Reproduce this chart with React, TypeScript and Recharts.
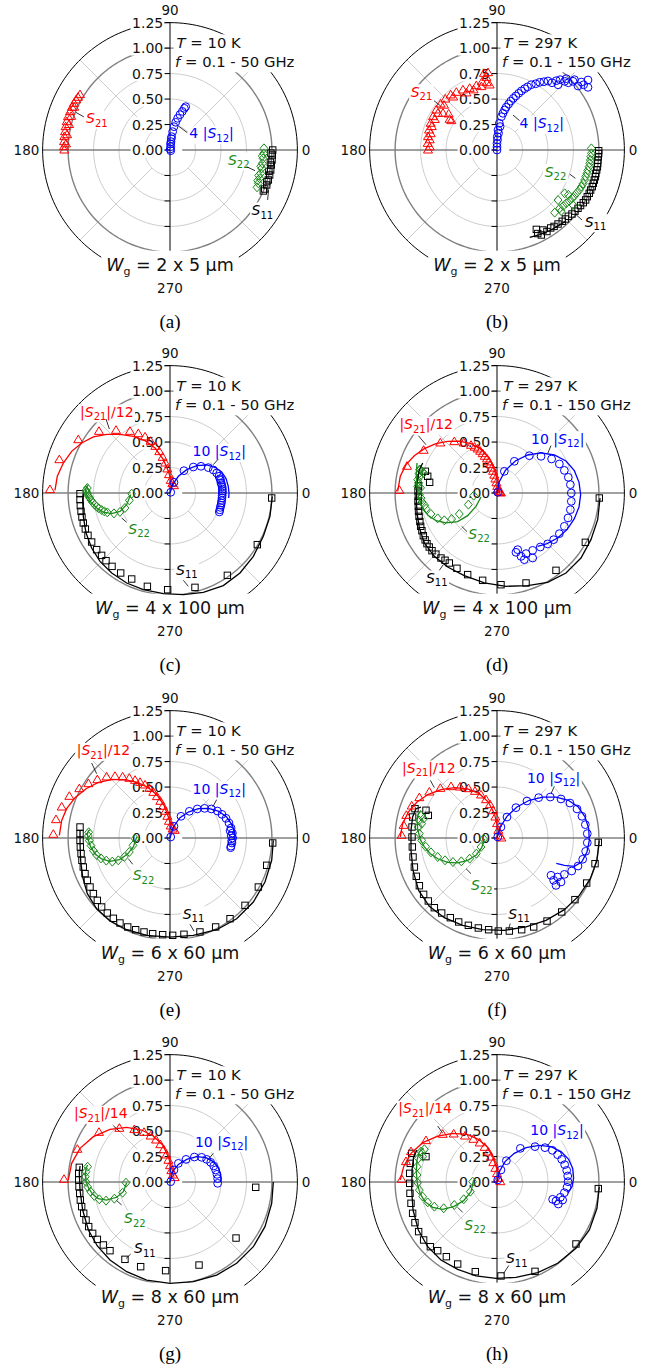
import React from "react";
import { ScatterChart, Scatter, XAxis, YAxis } from "recharts";

type Pt = [number, number]; // [Re, Im]

// ---------- (a) T = 10 K, Wg = 2 x 5 um ----------
const A_S21: Pt[] = [[-1.037,0],[-1.04,0.033],[-1.02,0.06],[-1.04,0.082],[-1.037,0.131],[-1.01,0.15],[-1.03,0.18],[-1.024,0.229],[-0.99,0.25],[-1.014,0.278],[-1.001,0.327],[-0.97,0.33],[-0.981,0.376],[-0.962,0.419],[-0.94,0.42],[-0.942,0.458],[-0.922,0.491],[-0.903,0.517],[-0.883,0.543]];
const A_S12: Pt[] = [[0.007,-0.007],[0.003,0.01],[0.007,0.033],[0.005,0.06],[0.01,0.082],[0.012,0.11],[0.016,0.131],[0.026,0.18],[0.039,0.229],[0.056,0.272],[0.075,0.311],[0.098,0.347],[0.121,0.379],[0.141,0.409],[0.154,0.425]];
const A_S22: Pt[] = [[0.922,0.016],[0.919,-0.033],[0.905,-0.06],[0.913,-0.082],[0.906,-0.131],[0.89,-0.16],[0.9,-0.18],[0.89,-0.229],[0.87,-0.25],[0.88,-0.278],[0.86,-0.3],[0.867,-0.327],[0.854,-0.366]];
const A_S11: Pt[] = [[1.008,0],[0.99,-0.03],[1.004,-0.049],[1.001,-0.098],[0.985,-0.12],[0.994,-0.147],[0.988,-0.196],[0.97,-0.21],[0.978,-0.245],[0.965,-0.294],[0.95,-0.31],[0.949,-0.343],[0.929,-0.383],[0.916,-0.402]];

// ---------- (b) T = 297 K, Wg = 2 x 5 um ----------
const B_S21: Pt[] = [[-0.677,0],[-0.66,0.03],[-0.68,0.065],[-0.66,0.1],[-0.677,0.131],[-0.65,0.16],[-0.667,0.196],[-0.64,0.23],[-0.651,0.262],[-0.61,0.3],[-0.628,0.327],[-0.58,0.36],[-0.595,0.393],[-0.553,0.451],[-0.52,0.44],[-0.507,0.5],[-0.455,0.54],[-0.43,0.52],[-0.399,0.566],[-0.334,0.589],[-0.3,0.56],[-0.268,0.605],[-0.23,0.59],[-0.203,0.631],[-0.147,0.667],[-0.1,0.66],[-0.105,0.713],[-0.088,0.759],[-0.128,0.752],[-0.072,0.638],[-0.154,0.622],[-0.465,0.301],[-0.53,0.36],[-0.474,0.353],[-0.448,0.288]];
const B_S12: Pt[] = [[0,0],[0,0.03],[0,0.065],[0.005,0.1],[0.003,0.131],[0.015,0.165],[0.01,0.196],[0.03,0.23],[0.023,0.262],[0.043,0.327],[0.058,0.36],[0.075,0.393],[0.09,0.42],[0.114,0.451],[0.135,0.48],[0.16,0.507],[0.185,0.53],[0.213,0.556],[0.24,0.58],[0.272,0.602],[0.3,0.62],[0.337,0.641],[0.38,0.65],[0.419,0.664],[0.46,0.67],[0.5,0.677],[0.54,0.66],[0.582,0.68],[0.6,0.64],[0.62,0.69],[0.664,0.674],[0.68,0.7],[0.7,0.66],[0.746,0.674],[0.76,0.69],[0.795,0.628],[0.828,0.667],[0.85,0.64],[0.893,0.687],[0.893,0.615]];
const B_S22: Pt[] = [[0.926,0.016],[0.926,-0.033],[0.92,-0.065],[0.916,-0.098],[0.91,-0.13],[0.903,-0.164],[0.89,-0.2],[0.883,-0.229],[0.87,-0.26],[0.86,-0.294],[0.845,-0.33],[0.828,-0.36],[0.81,-0.39],[0.785,-0.419],[0.76,-0.45],[0.736,-0.474],[0.71,-0.5],[0.68,-0.523],[0.65,-0.55],[0.615,-0.572],[0.63,-0.6],[0.566,-0.615],[0.664,-0.425],[0.7,-0.44],[0.746,-0.54],[0.599,-0.491]];
const B_S11: Pt[] = [[0.998,-0.007],[0.997,-0.035],[0.994,-0.065],[0.99,-0.1],[0.988,-0.131],[0.985,-0.165],[0.978,-0.196],[0.97,-0.23],[0.965,-0.262],[0.955,-0.295],[0.945,-0.327],[0.935,-0.36],[0.919,-0.393],[0.905,-0.425],[0.886,-0.458],[0.87,-0.49],[0.847,-0.517],[0.82,-0.545],[0.795,-0.572],[0.765,-0.6],[0.736,-0.628],[0.7,-0.65],[0.671,-0.677],[0.64,-0.7],[0.599,-0.726],[0.56,-0.75],[0.527,-0.765],[0.49,-0.8],[0.451,-0.785],[0.435,-0.834],[0.4,-0.82],[0.386,-0.779]];
const B_S11_FIT: Pt[] = [[0.321,-0.857],[0.42,-0.83],[0.52,-0.79],[0.6,-0.745],[0.67,-0.7]];

// ---------- (c) T = 10 K, Wg = 4 x 100 um ----------
const C_S21: Pt[] = [[-1.178,0.033],[-1.086,0.327],[-0.9,0.523],[-0.697,0.605],[-0.53,0.615],[-0.393,0.605],[-0.311,0.582],[-0.245,0.55],[-0.19,0.507],[-0.144,0.458],[-0.105,0.406],[-0.072,0.35],[-0.046,0.294],[-0.026,0.236],[-0.01,0.18],[0.007,0.124],[0.023,0.092],[0.039,0.072]];
const C_S21_FIT: Pt[] = [[-1.129,0.026],[-1.106,0.164],[-1.047,0.294],[-0.965,0.409],[-0.867,0.491],[-0.752,0.55],[-0.622,0.576],[-0.491,0.576],[-0.36,0.556],[-0.245,0.514],[-0.147,0.442],[-0.065,0.327],[-0.016,0.213],[0.016,0.114],[0.039,0.065]];
const C_S12: Pt[] = [[0.007,0.007],[0.039,0.105],[0.137,0.219],[0.229,0.255],[0.304,0.262],[0.376,0.249],[0.425,0.226],[0.458,0.196],[0.481,0.164],[0.49,0.14],[0.497,0.124],[0.5,0.1],[0.507,0.082],[0.512,0.06],[0.514,0.039],[0.514,0.02],[0.514,0],[0.512,-0.025],[0.51,-0.049],[0.507,-0.075],[0.504,-0.098],[0.499,-0.12],[0.494,-0.141],[0.489,-0.165],[0.484,-0.186]];
const C_S12_FIT: Pt[] = [[0,0],[0.026,0.082],[0.082,0.164],[0.164,0.229],[0.262,0.268],[0.36,0.275],[0.442,0.252],[0.507,0.206],[0.55,0.141],[0.572,0.065],[0.579,0],[0.576,-0.049]];
const C_S22: Pt[] = [[-0.376,-0.007],[-0.399,-0.072],[-0.442,-0.147],[-0.491,-0.186],[-0.55,-0.2],[-0.615,-0.19],[-0.645,-0.18],[-0.671,-0.167],[-0.7,-0.15],[-0.72,-0.134],[-0.74,-0.115],[-0.759,-0.092],[-0.775,-0.07],[-0.788,-0.049],[-0.8,-0.03],[-0.811,-0.007],[-0.818,0.01],[-0.824,0.026],[-0.811,0.049]];
const C_S22_FIT: Pt[] = [[-0.386,-0.016],[-0.425,-0.114],[-0.491,-0.18],[-0.573,-0.203],[-0.654,-0.187],[-0.72,-0.147],[-0.775,-0.092],[-0.811,-0.033],[-0.831,0.016],[-0.824,0.049],[-0.801,0.082]];
const C_S11: Pt[] = [[-0.883,-0.007],[-0.883,-0.065],[-0.88,-0.124],[-0.873,-0.18],[-0.864,-0.236],[-0.851,-0.294],[-0.831,-0.353],[-0.805,-0.415],[-0.769,-0.481],[-0.72,-0.556],[-0.671,-0.612],[-0.628,-0.664],[-0.569,-0.72],[-0.484,-0.785],[-0.376,-0.844],[-0.222,-0.916],[-0.023,-0.949],[0.245,-0.926],[0.563,-0.808],[0.857,-0.507],[0.998,-0.049]];
const C_S11_FIT: Pt[] = [[1.004,-0.033],[0.981,-0.229],[0.916,-0.425],[0.818,-0.622],[0.687,-0.785],[0.523,-0.909],[0.327,-0.975],[0.131,-0.998],[-0.065,-0.988],[-0.262,-0.949],[-0.425,-0.883],[-0.572,-0.785],[-0.687,-0.671],[-0.769,-0.54],[-0.824,-0.393],[-0.851,-0.229],[-0.857,-0.065],[-0.851,-0.007]];

// ---------- (d) T = 297 K, Wg = 4 x 100 um ----------
const D_S21: Pt[] = [[-0.958,0.026],[-0.883,0.262],[-0.72,0.419],[-0.556,0.491],[-0.419,0.504],[-0.327,0.491],[-0.255,0.468],[-0.22,0.45],[-0.19,0.432],[-0.165,0.41],[-0.141,0.386],[-0.12,0.36],[-0.098,0.334],[-0.08,0.305],[-0.065,0.278],[-0.05,0.245],[-0.039,0.213],[-0.027,0.175],[-0.016,0.137],[-0.006,0.1],[0.003,0.065],[0.012,0.04],[0.02,0.016],[0.03,0.005],[0.039,0]];
const D_S21_FIT: Pt[] = [[-0.975,0.016],[-0.949,0.164],[-0.893,0.278],[-0.811,0.366],[-0.713,0.435],[-0.599,0.484],[-0.484,0.507],[-0.37,0.51],[-0.255,0.484],[-0.157,0.432],[-0.075,0.343],[-0.026,0.229],[0.007,0.114],[0.023,0.033],[0.026,-0.007]];
const D_S12: Pt[] = [[0.007,0.007],[0.072,0.213],[0.17,0.311],[0.317,0.366],[0.432,0.36],[0.536,0.334],[0.612,0.285],[0.661,0.222],[0.7,0.154],[0.72,0.082],[0.729,0],[0.729,-0.082],[0.72,-0.164],[0.697,-0.245],[0.661,-0.327],[0.612,-0.399],[0.556,-0.458],[0.497,-0.5],[0.425,-0.53],[0.35,-0.563],[0.285,-0.595],[0.236,-0.622],[0.186,-0.582],[0.268,-0.654],[0.203,-0.556],[0.35,-0.638]];
const D_S12_FIT: Pt[] = [[0,0],[0.02,0.105],[0.082,0.222],[0.18,0.314],[0.301,0.373],[0.432,0.393],[0.563,0.373],[0.677,0.314],[0.759,0.219],[0.805,0.105],[0.821,-0.016],[0.805,-0.137],[0.759,-0.252],[0.687,-0.36],[0.595,-0.442],[0.491,-0.497],[0.399,-0.523]];
const D_S22: Pt[] = [[-0.229,-0.026],[-0.281,-0.114],[-0.37,-0.206],[-0.445,-0.255],[-0.517,-0.268],[-0.582,-0.249],[-0.648,-0.206],[-0.697,-0.154],[-0.71,-0.12],[-0.736,-0.088],[-0.745,-0.05],[-0.762,-0.016],[-0.75,0.05],[-0.779,0.065],[-0.77,0.1],[-0.779,0.131],[-0.76,0.16],[-0.766,0.19],[-0.735,0.21],[-0.752,0.229],[-0.76,0.23],[-0.72,0.196]];
const D_S22_FIT: Pt[] = [[-0.157,-0.039],[-0.206,-0.131],[-0.288,-0.222],[-0.386,-0.281],[-0.5,-0.294],[-0.599,-0.272],[-0.68,-0.216],[-0.739,-0.131],[-0.772,-0.033],[-0.788,0.082],[-0.792,0.196],[-0.785,0.294]];
const D_S11: Pt[] = [[-0.703,0.213],[-0.68,0.164],[-0.661,0.105],[-0.77,0.07],[-0.775,0.02],[-0.772,-0.033],[-0.775,-0.08],[-0.772,-0.131],[-0.77,-0.18],[-0.765,-0.229],[-0.757,-0.28],[-0.749,-0.327],[-0.737,-0.37],[-0.723,-0.419],[-0.705,-0.46],[-0.687,-0.497],[-0.665,-0.53],[-0.638,-0.566],[-0.6,-0.6],[-0.55,-0.638],[-0.51,-0.66],[-0.468,-0.687],[-0.393,-0.739],[-0.288,-0.801],[-0.141,-0.857],[0.039,-0.9],[0.285,-0.883],[0.579,-0.759],[0.867,-0.484],[1.004,-0.049]];
const D_S11_FIT: Pt[] = [[1.011,-0.049],[0.988,-0.262],[0.922,-0.458],[0.824,-0.638],[0.677,-0.785],[0.497,-0.877],[0.301,-0.909],[0.088,-0.916],[-0.124,-0.883],[-0.321,-0.811],[-0.484,-0.726],[-0.615,-0.622],[-0.713,-0.491],[-0.762,-0.343],[-0.785,-0.196],[-0.792,-0.049],[-0.785,0.098],[-0.762,0.229],[-0.729,0.294]];

// ---------- (e) T = 10 K, Wg = 6 x 60 um ----------
const E_S21: Pt[] = [[-1.145,0.036],[-1.119,0.18],[-1.063,0.304],[-0.988,0.409],[-0.89,0.484],[-0.801,0.533],[-0.713,0.572],[-0.622,0.599],[-0.54,0.605],[-0.465,0.599],[-0.399,0.586],[-0.343,0.566],[-0.294,0.546],[-0.245,0.52],[-0.203,0.487],[-0.164,0.448],[-0.128,0.406],[-0.095,0.36],[-0.069,0.311],[-0.046,0.262],[-0.026,0.213],[-0.01,0.164],[0.007,0.118],[0.026,0.088],[0.046,0.075]];
const E_S21_FIT: Pt[] = [[-1.086,0.026],[-1.063,0.173],[-1.014,0.288],[-0.932,0.396],[-0.824,0.484],[-0.703,0.546],[-0.572,0.572],[-0.442,0.572],[-0.321,0.546],[-0.213,0.494],[-0.124,0.419],[-0.059,0.321],[-0.016,0.206],[0.016,0.108],[0.039,0.069]];
const E_S12: Pt[] = [[0.007,0.01],[0.039,0.114],[0.108,0.213],[0.19,0.262],[0.268,0.285],[0.34,0.291],[0.406,0.285],[0.465,0.265],[0.51,0.232],[0.55,0.193],[0.579,0.147],[0.59,0.07],[0.599,0.098],[0.612,0.049],[0.6,0.02],[0.615,0],[0.605,-0.03],[0.608,-0.049],[0.598,-0.08],[0.595,-0.095]];
const E_S12_FIT: Pt[] = [[0,0],[0.033,0.108],[0.098,0.2],[0.18,0.255],[0.278,0.288],[0.376,0.291],[0.474,0.265],[0.556,0.206],[0.612,0.124],[0.638,0.043],[0.638,-0.023]];
const E_S22: Pt[] = [[-0.343,-0.007],[-0.363,-0.072],[-0.399,-0.137],[-0.448,-0.186],[-0.507,-0.219],[-0.566,-0.232],[-0.625,-0.222],[-0.677,-0.2],[-0.72,-0.167],[-0.752,-0.124],[-0.775,-0.075],[-0.792,-0.026],[-0.801,0.02],[-0.798,0.056]];
const E_S22_FIT: Pt[] = [[-0.327,0.01],[-0.36,-0.088],[-0.419,-0.16],[-0.497,-0.213],[-0.589,-0.229],[-0.671,-0.206],[-0.736,-0.154],[-0.779,-0.088],[-0.801,-0.023],[-0.811,0.036],[-0.801,0.069],[-0.785,0.082]];
const E_S11: Pt[] = [[-0.883,0.108],[-0.883,0.043],[-0.883,-0.023],[-0.88,-0.088],[-0.873,-0.154],[-0.864,-0.219],[-0.851,-0.285],[-0.834,-0.35],[-0.811,-0.415],[-0.785,-0.481],[-0.752,-0.546],[-0.713,-0.612],[-0.671,-0.677],[-0.615,-0.736],[-0.556,-0.788],[-0.491,-0.834],[-0.415,-0.873],[-0.337,-0.9],[-0.255,-0.922],[-0.17,-0.939],[-0.072,-0.949],[0.026,-0.955],[0.137,-0.945],[0.294,-0.922],[0.448,-0.873],[0.589,-0.792],[0.736,-0.661],[0.867,-0.481],[0.949,-0.268],[1.008,-0.049]];
const E_S11_FIT: Pt[] = [[1.014,-0.023],[0.998,-0.219],[0.932,-0.432],[0.818,-0.628],[0.654,-0.792],[0.458,-0.9],[0.229,-0.955],[0,-0.972],[-0.229,-0.955],[-0.425,-0.9],[-0.589,-0.815],[-0.72,-0.694],[-0.811,-0.546],[-0.857,-0.383],[-0.877,-0.219],[-0.883,-0.056],[-0.883,0.075]];

// ---------- (f) T = 297 K, Wg = 6 x 60 um ----------
const F_S21: Pt[] = [[-0.936,0.026],[-0.916,0.124],[-0.89,0.222],[-0.837,0.314],[-0.762,0.396],[-0.664,0.451],[-0.556,0.487],[-0.451,0.504],[-0.363,0.5],[-0.281,0.484],[-0.216,0.458],[-0.157,0.422],[-0.108,0.376],[-0.069,0.327],[-0.039,0.268],[-0.016,0.206],[0,0.141],[0.013,0.075],[0.029,0.02],[0.043,0]];
const F_S21_FIT: Pt[] = [[-0.949,0.01],[-0.926,0.141],[-0.87,0.255],[-0.785,0.353],[-0.674,0.429],[-0.55,0.474],[-0.419,0.494],[-0.288,0.481],[-0.173,0.435],[-0.085,0.353],[-0.026,0.239],[0.007,0.108],[0.023,0.026]];
const F_S12: Pt[] = [[0.007,0.01],[0.039,0.108],[0.098,0.206],[0.186,0.298],[0.294,0.363],[0.409,0.396],[0.523,0.402],[0.628,0.383],[0.716,0.343],[0.785,0.285],[0.834,0.213],[0.867,0.131],[0.886,0.043],[0.886,-0.046],[0.87,-0.131],[0.841,-0.209],[0.795,-0.275],[0.733,-0.324],[0.661,-0.357],[0.595,-0.383],[0.556,-0.415],[0.53,-0.366],[0.579,-0.465],[0.628,-0.432]];
const F_S12_FIT: Pt[] = [[0,0],[0.033,0.108],[0.098,0.213],[0.196,0.304],[0.317,0.37],[0.448,0.402],[0.579,0.402],[0.7,0.37],[0.798,0.304],[0.864,0.206],[0.9,0.092],[0.906,-0.023],[0.883,-0.137],[0.831,-0.236],[0.759,-0.278],[0.661,-0.268],[0.582,-0.249]];
const F_S22: Pt[] = [[-0.131,-0.01],[-0.157,-0.088],[-0.203,-0.154],[-0.268,-0.203],[-0.35,-0.229],[-0.432,-0.236],[-0.51,-0.219],[-0.582,-0.186],[-0.648,-0.141],[-0.7,-0.085],[-0.739,-0.023],[-0.762,0.043],[-0.772,0.108],[-0.765,0.173],[-0.746,0.219],[-0.72,0.19],[-0.739,0.141]];
const F_S22_FIT: Pt[] = [[-0.124,-0.007],[-0.15,-0.095],[-0.206,-0.17],[-0.288,-0.219],[-0.386,-0.245],[-0.484,-0.239],[-0.576,-0.206],[-0.654,-0.154],[-0.713,-0.088],[-0.756,-0.007],[-0.779,0.092],[-0.785,0.173],[-0.772,0.239],[-0.746,0.272]];
const F_S11: Pt[] = [[-0.697,0.272],[-0.674,0.222],[-0.805,0.288],[-0.828,0.206],[-0.834,0.108],[-0.834,0.01],[-0.831,-0.088],[-0.824,-0.186],[-0.811,-0.285],[-0.792,-0.376],[-0.762,-0.468],[-0.72,-0.553],[-0.674,-0.618],[-0.615,-0.684],[-0.543,-0.736],[-0.458,-0.782],[-0.376,-0.824],[-0.281,-0.857],[-0.183,-0.883],[-0.082,-0.9],[0.013,-0.913],[0.121,-0.913],[0.242,-0.9],[0.36,-0.873],[0.491,-0.815],[0.635,-0.726],[0.765,-0.605],[0.88,-0.442],[0.962,-0.252],[0.994,-0.043]];
const F_S11_FIT: Pt[] = [[1.004,-0.023],[0.981,-0.219],[0.916,-0.399],[0.808,-0.563],[0.661,-0.703],[0.481,-0.808],[0.285,-0.873],[0.072,-0.906],[-0.141,-0.9],[-0.337,-0.857],[-0.517,-0.782],[-0.664,-0.671],[-0.769,-0.514],[-0.824,-0.317],[-0.844,-0.121],[-0.844,0.075],[-0.828,0.206],[-0.795,0.288],[-0.746,0.304]];

// ---------- (g) T = 10 K, Wg = 8 x 60 um ----------
const G_S21: Pt[] = [[-1.04,0.026],[-0.909,0.321],[-0.697,0.487],[-0.497,0.527],[-0.35,0.514],[-0.255,0.487],[-0.19,0.451],[-0.137,0.412],[-0.095,0.366],[-0.062,0.317],[-0.036,0.265],[-0.016,0.213],[0,0.16],[0.013,0.111],[0.029,0.069],[0.046,0.043]];
const G_S21_FIT: Pt[] = [[-0.998,0.02],[-0.965,0.183],[-0.883,0.33],[-0.752,0.445],[-0.589,0.517],[-0.425,0.536],[-0.278,0.51],[-0.164,0.451],[-0.072,0.363],[-0.016,0.249],[0.016,0.134],[0.039,0.052]];
const G_S12: Pt[] = [[0.007,0.003],[0.039,0.118],[0.082,0.183],[0.157,0.222],[0.239,0.245],[0.311,0.242],[0.36,0.222],[0.399,0.193],[0.429,0.157],[0.448,0.118],[0.461,0.075],[0.468,0.033],[0.468,-0.013]];
const G_S12_FIT: Pt[] = [[0,0],[0.026,0.101],[0.082,0.173],[0.164,0.222],[0.262,0.249],[0.353,0.239],[0.425,0.2],[0.474,0.141],[0.497,0.069],[0.5,0.003]];
const G_S22: Pt[] = [[-0.432,-0.007],[-0.465,-0.105],[-0.546,-0.164],[-0.628,-0.183],[-0.694,-0.17],[-0.743,-0.137],[-0.779,-0.095],[-0.808,-0.049],[-0.824,0],[-0.831,0.052],[-0.824,0.101],[-0.808,0.15]];
const G_S22_FIT: Pt[] = [[-0.425,-0.007],[-0.458,-0.095],[-0.523,-0.15],[-0.622,-0.177],[-0.703,-0.164],[-0.759,-0.121],[-0.798,-0.062],[-0.824,0.003],[-0.831,0.069],[-0.824,0.134],[-0.808,0.167]];
const G_S11: Pt[] = [[-0.89,0.144],[-0.896,0.085],[-0.896,0.02],[-0.893,-0.046],[-0.886,-0.111],[-0.88,-0.177],[-0.867,-0.242],[-0.847,-0.307],[-0.824,-0.373],[-0.798,-0.438],[-0.759,-0.504],[-0.713,-0.563],[-0.654,-0.618],[-0.589,-0.674],[-0.442,-0.759],[-0.288,-0.831],[-0.043,-0.87],[0.285,-0.815],[0.648,-0.55],[0.841,-0.052]];
const G_S11_FIT: Pt[] = [[1.014,0],[0.998,-0.209],[0.932,-0.438],[0.818,-0.635],[0.654,-0.798],[0.458,-0.913],[0.229,-0.978],[0,-0.994],[-0.229,-0.962],[-0.425,-0.88],[-0.589,-0.765],[-0.713,-0.628],[-0.801,-0.471],[-0.857,-0.275],[-0.883,-0.079],[-0.89,0.085],[-0.883,0.157]];

// ---------- (h) T = 297 K, Wg = 8 x 60 um ----------
const H_S21: Pt[] = [[-0.936,0.026],[-0.893,0.2],[-0.844,0.298],[-0.697,0.406],[-0.533,0.468],[-0.425,0.471],[-0.314,0.451],[-0.232,0.419],[-0.17,0.383],[-0.121,0.34],[-0.085,0.294],[-0.059,0.245],[-0.036,0.19],[-0.016,0.134],[0,0.082],[0.016,0.036],[0.033,0.003]];
const H_S21_FIT: Pt[] = [[-0.949,0.02],[-0.916,0.15],[-0.844,0.281],[-0.729,0.386],[-0.582,0.451],[-0.435,0.478],[-0.294,0.468],[-0.183,0.419],[-0.098,0.347],[-0.043,0.249],[-0.003,0.134],[0.02,0.036]];
const H_S12: Pt[] = [[0.007,0.02],[0.039,0.118],[0.092,0.209],[0.229,0.33],[0.373,0.347],[0.471,0.337],[0.543,0.311],[0.595,0.268],[0.635,0.222],[0.664,0.17],[0.684,0.114],[0.694,0.059],[0.697,0.003],[0.687,-0.052],[0.661,-0.105],[0.622,-0.15],[0.579,-0.186],[0.602,-0.216],[0.546,-0.17],[0.644,-0.177]];
const H_S12_FIT: Pt[] = [[0,0],[0.023,0.101],[0.079,0.2],[0.17,0.281],[0.285,0.337],[0.415,0.36],[0.53,0.347],[0.628,0.298],[0.703,0.222],[0.743,0.134],[0.752,0.036],[0.736,-0.046],[0.694,-0.111]];
const H_S22: Pt[] = [[-0.239,0.003],[-0.262,-0.095],[-0.327,-0.17],[-0.419,-0.226],[-0.523,-0.258],[-0.615,-0.242],[-0.68,-0.2],[-0.729,-0.144],[-0.762,-0.079],[-0.779,-0.007],[-0.785,0.069],[-0.785,0.15],[-0.772,0.232],[-0.746,0.298],[-0.713,0.321],[-0.729,0.249]];
const H_S22_FIT: Pt[] = [[-0.229,0.02],[-0.255,-0.095],[-0.327,-0.183],[-0.425,-0.242],[-0.533,-0.268],[-0.631,-0.249],[-0.707,-0.193],[-0.756,-0.111],[-0.782,-0.013],[-0.792,0.101],[-0.785,0.216],[-0.762,0.298],[-0.72,0.33]];
const H_S11: Pt[] = [[-0.697,0.249],[-0.837,0.281],[-0.851,0.183],[-0.857,0.085],[-0.857,-0.013],[-0.854,-0.111],[-0.844,-0.209],[-0.828,-0.307],[-0.805,-0.399],[-0.769,-0.487],[-0.72,-0.569],[-0.654,-0.635],[-0.582,-0.674],[-0.497,-0.733],[-0.386,-0.805],[-0.213,-0.88],[0.039,-0.922],[0.373,-0.877],[0.775,-0.608],[0.994,-0.065]];
const H_S11_FIT: Pt[] = [[1.004,-0.046],[0.981,-0.258],[0.906,-0.471],[0.775,-0.651],[0.595,-0.798],[0.399,-0.89],[0.186,-0.936],[-0.01,-0.945],[-0.206,-0.922],[-0.386,-0.857],[-0.55,-0.765],[-0.68,-0.635],[-0.772,-0.471],[-0.824,-0.275],[-0.837,-0.079],[-0.834,0.118],[-0.818,0.249],[-0.785,0.314]];

// radial axis tick labels
const R_TICKS = [0, 0.25, 0.5, 0.75, 1, 1.25];
const R_TICK_TEXT = ["0.00", "0.25", "0.50", "0.75", "1.00", "1.25"];
const ANGLE_TEXT = ["0", "90", "180", "270"];

// ---------- layout / style ----------
const RED = "#ff0000";
const BLUE = "#0000ff";
const GREEN = "#1a8a1a";
const BLACK = "#000000";
const LIGHT = "#cccccc";
const MID = "#808080";
const SANS = "'DejaVu Sans', Verdana, sans-serif";
const SERIF = "'Liberation Serif', 'Times New Roman', serif";

const W = 328;
const H = 344;
const K = 101.9; // px per unit of |S|
const CX = 170;
const CY = 150;
const XDOM: [number, number] = [-CX / K, (W - CX) / K];
const YDOM: [number, number] = [-(H - CY) / K, CY / K];

// rough DejaVu Sans advance widths (em) for box sizing
const CW: Record<string, number> = {
  "0": 0.636, "1": 0.636, "2": 0.636, "3": 0.636, "4": 0.636, "5": 0.636, "6": 0.636, "7": 0.636, "8": 0.636, "9": 0.636,
  ".": 0.318, " ": 0.318, "|": 0.337, "/": 0.337, "-": 0.361, "=": 0.838, x: 0.592, "μ": 0.636, m: 0.974,
  K: 0.656, G: 0.775, H: 0.752, z: 0.525, T: 0.611, f: 0.352, W: 0.989, S: 0.635, g: 0.635,
};
const tw = (s: string, fs: number) => Array.from(s).reduce((a, c) => a + (CW[c] ?? 0.6), 0) * fs;

const P = (a: Pt[]) => a.map(([x, y]) => ({ x, y }));
const seg = (a: Pt, b: Pt) => [{ x: a[0], y: a[1] }, { x: b[0], y: b[1] }];
const ring = (r: number) =>
  Array.from({ length: 181 }, (_, i) => {
    const t = (i * Math.PI) / 90;
    return { x: r * Math.cos(t), y: r * Math.sin(t) };
  });
const spoke = (deg: number) => {
  const t = (deg * Math.PI) / 180;
  return seg([0.25 * Math.cos(t), 0.25 * Math.sin(t)], [1.25 * Math.cos(t), 1.25 * Math.sin(t)]);
};
const AXIS_TICKS = [-1.25, -1, -0.75, -0.5, -0.25, 0, 0.25, 0.5, 0.75, 1, 1.25].map((y) => ({ x: 0, y }));

type SLab = { x: number; y: number; pre: string; sub: string; post: string; c: string; ld: [Pt, Pt] };
const sl = (x: number, y: number, pre: string, sub: string, post: string, c: string, ld: [Pt, Pt]): SLab => ({ x, y, pre, sub, post, c, ld });

type Fits = { s11?: Pt[]; s22?: Pt[]; s21?: Pt[]; s12?: Pt[] };
type PanelDef = {
  id: string; left: number; top: number; T: string; fmax: string; wg: string;
  s11: Pt[]; s22: Pt[]; s21: Pt[]; s12: Pt[]; fits: Fits; labs: SLab[];
};

const PANELS: PanelDef[] = [
  {
    id: "a", left: 0, top: 0, T: "10", fmax: "50", wg: "2 x 5",
    s11: A_S11, s22: A_S22, s21: A_S21, s12: A_S12, fits: {},
    labs: [
      sl(-0.824, 0.262, "", "21", "", RED, [[-0.925, 0.37], [-0.845, 0.325]]),
      sl(0.19, 0.114, "4 |", "12", "|", BLUE, [[0.082, 0.236], [0.17, 0.17]]),
      sl(0.569, -0.147, "", "22", "", GREEN, [[0.752, -0.164], [0.834, -0.203]]),
      sl(0.801, -0.638, "", "11", "", BLACK, [[0.968, -0.39], [0.958, -0.49]]),
    ],
  },
  {
    id: "b", left: 327, top: 0, T: "297", fmax: "150", wg: "2 x 5",
    s11: B_S11, s22: B_S22, s21: B_S21, s12: B_S12, fits: { s11: B_S11_FIT },
    labs: [
      sl(-0.847, 0.523, "", "21", "", RED, [[-0.618, 0.484], [-0.553, 0.432]]),
      sl(0.222, 0.213, "4 |", "12", "|", BLUE, [[0.157, 0.343], [0.222, 0.288]]),
      sl(0.468, -0.262, "", "22", "", GREEN, [[0.713, -0.236], [0.769, -0.278]]),
      sl(0.86, -0.752, "", "11", "", BLACK, [[0.769, -0.628], [0.834, -0.687]]),
    ],
  },
  {
    id: "c", left: 0, top: 343, T: "10", fmax: "50", wg: "4 x 100",
    s11: C_S11, s22: C_S22, s21: C_S21, s12: C_S12,
    fits: { s11: C_S11_FIT, s22: C_S22_FIT, s21: C_S21_FIT, s12: C_S12_FIT },
    labs: [
      sl(-0.883, 0.746, "|", "21", "|/12", RED, [[-0.628, 0.726], [-0.595, 0.628]]),
      sl(0.222, 0.36, "10 |", "12", "|", BLUE, [[0.474, 0.334], [0.425, 0.278]]),
      sl(-0.409, -0.399, "", "22", "", GREEN, [[-0.474, -0.245], [-0.425, -0.288]]),
      sl(0.059, -0.801, "", "11", "", BLACK, [[0.131, -0.857], [0.18, -0.916]]),
    ],
  },
  {
    id: "d", left: 327, top: 343, T: "297", fmax: "150", wg: "4 x 100",
    s11: D_S11, s22: D_S22, s21: D_S21, s12: D_S12,
    fits: { s11: D_S11_FIT, s22: D_S22_FIT, s21: D_S21_FIT, s12: D_S12_FIT },
    labs: [
      sl(-0.958, 0.628, "|", "21", "|/12", RED, [[-0.772, 0.563], [-0.697, 0.474]]),
      sl(0.334, 0.484, "10 |", "12", "|", BLUE, [[0.53, 0.465], [0.497, 0.386]]),
      sl(-0.281, -0.448, "", "22", "", GREEN, [[-0.347, -0.327], [-0.294, -0.379]]),
      sl(-0.697, -0.883, "", "11", "", BLACK, [[-0.566, -0.759], [-0.527, -0.703]]),
    ],
  },
  {
    id: "e", left: 0, top: 688, T: "10", fmax: "50", wg: "6 x 60",
    s11: E_S11, s22: E_S22, s21: E_S21, s12: E_S12,
    fits: { s11: E_S11_FIT, s22: E_S22_FIT, s21: E_S21_FIT, s12: E_S12_FIT },
    labs: [
      sl(-0.916, 0.811, "|", "21", "|/12", RED, [[-0.769, 0.736], [-0.72, 0.631]]),
      sl(0.222, 0.435, "10 |", "12", "|", BLUE, [[0.458, 0.376], [0.419, 0.304]]),
      sl(-0.366, -0.415, "", "22", "", GREEN, [[-0.409, -0.203], [-0.366, -0.258]]),
      sl(0.124, -0.792, "", "11", "", BLACK, [[0.196, -0.847], [0.235, -0.913]]),
    ],
  },
  {
    id: "f", left: 327, top: 688, T: "297", fmax: "150", wg: "6 x 60",
    s11: F_S11, s22: F_S22, s21: F_S21, s12: F_S12,
    fits: { s11: F_S11_FIT, s22: F_S22_FIT, s21: F_S21_FIT, s12: F_S12_FIT },
    labs: [
      sl(-0.932, 0.638, "|", "21", "|/12", RED, [[-0.654, 0.566], [-0.615, 0.494]]),
      sl(0.294, 0.54, "10 |", "12", "|", BLUE, [[0.563, 0.507], [0.53, 0.435]]),
      sl(-0.255, -0.514, "", "22", "", GREEN, [[-0.304, -0.301], [-0.255, -0.35]]),
      sl(0.111, -0.792, "", "11", "", BLACK, [[0.13, -0.84], [0.11, -0.905]]),
    ],
  },
  {
    id: "g", left: 0, top: 1032, T: "10", fmax: "50", wg: "8 x 60",
    s11: G_S11, s22: G_S22, s21: G_S21, s12: G_S12,
    fits: { s11: G_S11_FIT, s22: G_S22_FIT, s21: G_S21_FIT, s12: G_S12_FIT },
    labs: [
      sl(-0.942, 0.625, "|", "21", "|/14", RED, [[-0.556, 0.55], [-0.491, 0.494]]),
      sl(0.245, 0.347, "10 |", "12", "|", BLUE, [[0.425, 0.281], [0.376, 0.222]]),
      sl(-0.451, -0.406, "", "22", "", GREEN, [[-0.53, -0.177], [-0.474, -0.226]]),
      sl(-0.353, -0.7, "", "11", "", BLACK, [[-0.432, -0.752], [-0.386, -0.707]]),
    ],
  },
  {
    id: "h", left: 327, top: 1032, T: "297", fmax: "150", wg: "8 x 60",
    s11: H_S11, s22: H_S22, s21: H_S21, s12: H_S12,
    fits: { s11: H_S11_FIT, s22: H_S22_FIT, s21: H_S21_FIT, s12: H_S12_FIT },
    labs: [
      sl(-0.968, 0.674, "|", "21", "|/14", RED, [[-0.582, 0.55], [-0.533, 0.478]]),
      sl(0.327, 0.461, "10 |", "12", "|", BLUE, [[0.537, 0.412], [0.491, 0.347]]),
      sl(-0.321, -0.471, "", "22", "", GREEN, [[-0.386, -0.249], [-0.337, -0.298]]),
      sl(0.088, -0.798, "", "11", "", BLACK, [[0.115, -0.82], [0.065, -0.896]]),
    ],
  },
];

const None = () => <g />;

const TickMark = (p: any) => {
  if (p.cx == null) return <g />;
  return <line x1={p.cx - 5.5} y1={p.cy} x2={p.cx} y2={p.cy} stroke="#000" strokeWidth={1} />;
};

const marker = (kind: string, color: string) => (p: any) => {
  const { cx, cy } = p;
  if (cx == null || cy == null) return <g />;
  const sp = { fill: "none", stroke: color, strokeWidth: 1 };
  if (kind === "sq") return <rect x={cx - 3.2} y={cy - 3.2} width={6.4} height={6.4} {...sp} />;
  if (kind === "ci") return <circle cx={cx} cy={cy} r={3.9} {...sp} />;
  if (kind === "tr") return <path d={`M${cx},${cy - 4.6}L${cx + 4.5},${cy + 3}L${cx - 4.5},${cy + 3}Z`} {...sp} />;
  return <path d={`M${cx},${cy - 4.5}L${cx + 3.9},${cy}L${cx},${cy + 4.5}L${cx - 3.9},${cy}Z`} {...sp} />;
};

function LabelShape(p: any) {
  const { cx, cy, payload: d } = p;
  if (cx == null || cy == null || !d) return <g />;
  if (d.kind === "tick") {
    const fs = 14;
    const w = tw(d.text, fs);
    return (
      <g>
        <rect x={cx - w - 1.5} y={cy - 7.5} width={w + 2.5} height={15} fill="#fff" />
        <text x={cx} y={cy} textAnchor="end" dominantBaseline="central" fontSize={fs} fontFamily={SANS} fill="#111">{d.text}</text>
      </g>
    );
  }
  if (d.kind === "ang") {
    return (
      <text x={cx} y={cy} textAnchor={d.anchor} dominantBaseline="central" fontSize={13.5} fontFamily={SANS} fill="#111">{d.text}</text>
    );
  }
  if (d.kind === "info") {
    const fs = 14.8;
    const w = Math.max(tw(`T = ${d.T} K`, fs), tw(`f = 0.1 - ${d.fmax} GHz`, fs));
    return (
      <g>
        <rect x={cx - 3} y={cy - 14} width={w + 6} height={38} fill="#fff" />
        <text x={cx} y={cy} fontSize={fs} fontFamily={SANS} fill="#111">
          <tspan fontStyle="italic">T</tspan>{` = ${d.T} K`}
        </text>
        <text x={cx - 1.5} y={cy + 18.5} fontSize={fs} fontFamily={SANS} fill="#111">
          <tspan fontStyle="italic">f</tspan>{` = 0.1 - ${d.fmax} GHz`}
        </text>
      </g>
    );
  }
  if (d.kind === "wg") {
    const fs = 17.5;
    const rest = ` = ${d.wg} μm`;
    const w = tw("W", fs) + tw("g", 11) + tw(rest, fs);
    return (
      <g>
        <rect x={cx - w / 2 - 5} y={cy - 20} width={w + 10} height={28} fill="#fff" />
        <text x={cx} y={cy} textAnchor="middle" fontSize={fs} fontFamily={SANS} fill="#111">
          <tspan fontStyle="italic">W</tspan>
          <tspan fontSize={11} dy={4}>g</tspan>
          <tspan dy={-4}>{rest}</tspan>
        </text>
      </g>
    );
  }
  if (d.kind === "cap") {
    return (
      <text x={cx} y={cy} textAnchor="middle" dominantBaseline="central" fontSize={19} fontFamily={SERIF} fill="#000">{`(${d.id})`}</text>
    );
  }
  if (d.kind === "s") {
    const fs = 14;
    const sfs = 10;
    const w = tw(d.pre, fs) + tw("S", fs) + tw(d.sub, sfs) + tw(d.post, fs);
    return (
      <g>
        <rect x={cx - 1.5} y={cy - 12.5} width={w + 3} height={18} fill="#fff" />
        <text x={cx} y={cy} fontSize={fs} fontFamily={SANS} fill={d.c}>
          {d.pre ? <tspan>{d.pre}</tspan> : null}
          <tspan fontStyle="italic">S</tspan>
          <tspan fontSize={sfs} dy={3.5}>{d.sub}</tspan>
          {d.post ? <tspan dy={-3.5}>{d.post}</tspan> : null}
        </text>
      </g>
    );
  }
  return <g />;
}

function lineItem(key: string, data: { x: number; y: number }[], stroke: string, width: number) {
  return (
    <Scatter
      key={key}
      data={data}
      line={{ stroke, strokeWidth: width, fill: "none" }}
      lineType="joint"
      shape={None}
      isAnimationActive={false}
      legendType="none"
    />
  );
}

function Panel({ pd }: { pd: PanelDef }) {
  const labels: any[] = [
    ...R_TICKS.map((v, i) => ({ x: -0.066, y: v, kind: "tick", text: R_TICK_TEXT[i] })),
    { x: 1.292, y: 0, kind: "ang", text: ANGLE_TEXT[0], anchor: "start" },
    { x: 0, y: 1.375, kind: "ang", text: ANGLE_TEXT[1], anchor: "middle" },
    { x: -1.282, y: 0, kind: "ang", text: ANGLE_TEXT[2], anchor: "end" },
    { x: 0, y: -1.354, kind: "ang", text: ANGLE_TEXT[3], anchor: "middle" },
    { x: 0.065, y: 0.998, kind: "info", T: pd.T, fmax: pd.fmax },
    { x: 0, y: -1.184, kind: "wg", wg: pd.wg },
    { x: 0, y: -1.685, kind: "cap", id: pd.id },
    ...pd.labs.map((l) => ({ x: l.x, y: l.y, kind: "s", pre: l.pre, sub: l.sub, post: l.post, c: l.c })),
  ];
  const series = [
    { k: "s11", d: pd.s11, c: BLACK, m: "sq", f: pd.fits.s11 },
    { k: "s22", d: pd.s22, c: GREEN, m: "di", f: pd.fits.s22 },
    { k: "s21", d: pd.s21, c: RED, m: "tr", f: pd.fits.s21 },
    { k: "s12", d: pd.s12, c: BLUE, m: "ci", f: pd.fits.s12 },
  ];
  return (
    <ScatterChart width={W} height={H} margin={{ top: 0, right: 0, bottom: 0, left: 0 }}>
      <XAxis type="number" dataKey="x" domain={XDOM} hide allowDataOverflow />
      <YAxis type="number" dataKey="y" domain={YDOM} hide allowDataOverflow />
      {[0.25, 0.5, 0.75].map((r) => lineItem(`ring${r}`, ring(r), LIGHT, 1))}
      {[45, 135, 225, 315].map((a) => lineItem(`spoke${a}`, spoke(a), LIGHT, 1))}
      {lineItem("ring1", ring(1), MID, 1.4)}
      {lineItem("hx1", seg([-1.25, 0], [0, 0]), MID, 1.6)}
      {lineItem("hx2", seg([0.12, 0], [1.25, 0]), MID, 1.6)}
      {lineItem("ring125", ring(1.25), "#000", 1)}
      {lineItem("vaxis", seg([0, -1.25], [0, 1.25]), "#000", 1)}
      <Scatter data={AXIS_TICKS} shape={TickMark} isAnimationActive={false} legendType="none" />
      <Scatter data={labels} shape={LabelShape} isAnimationActive={false} legendType="none" />
      {pd.labs.map((l, i) => lineItem(`ld${i}`, seg(l.ld[0], l.ld[1]), "#000", 0.8))}
      {series.map((s) => (
        <Scatter key={`m-${s.k}`} data={P(s.d)} shape={marker(s.m, s.c)} isAnimationActive={false} legendType="none" />
      ))}
      {series.map((s) => (s.f ? lineItem(`f-${s.k}`, P(s.f), s.c, 1.3) : null))}
    </ScatterChart>
  );
}

export default function App() {
  return (
    <div style={{ position: "absolute", left: 0, top: 0, width: 655, height: 1370, background: "#fff", overflow: "hidden" }}>
      {PANELS.map((pd) => (
        <div key={pd.id} style={{ position: "absolute", left: pd.left, top: pd.top, width: W, height: H }}>
          <Panel pd={pd} />
        </div>
      ))}
    </div>
  );
}
